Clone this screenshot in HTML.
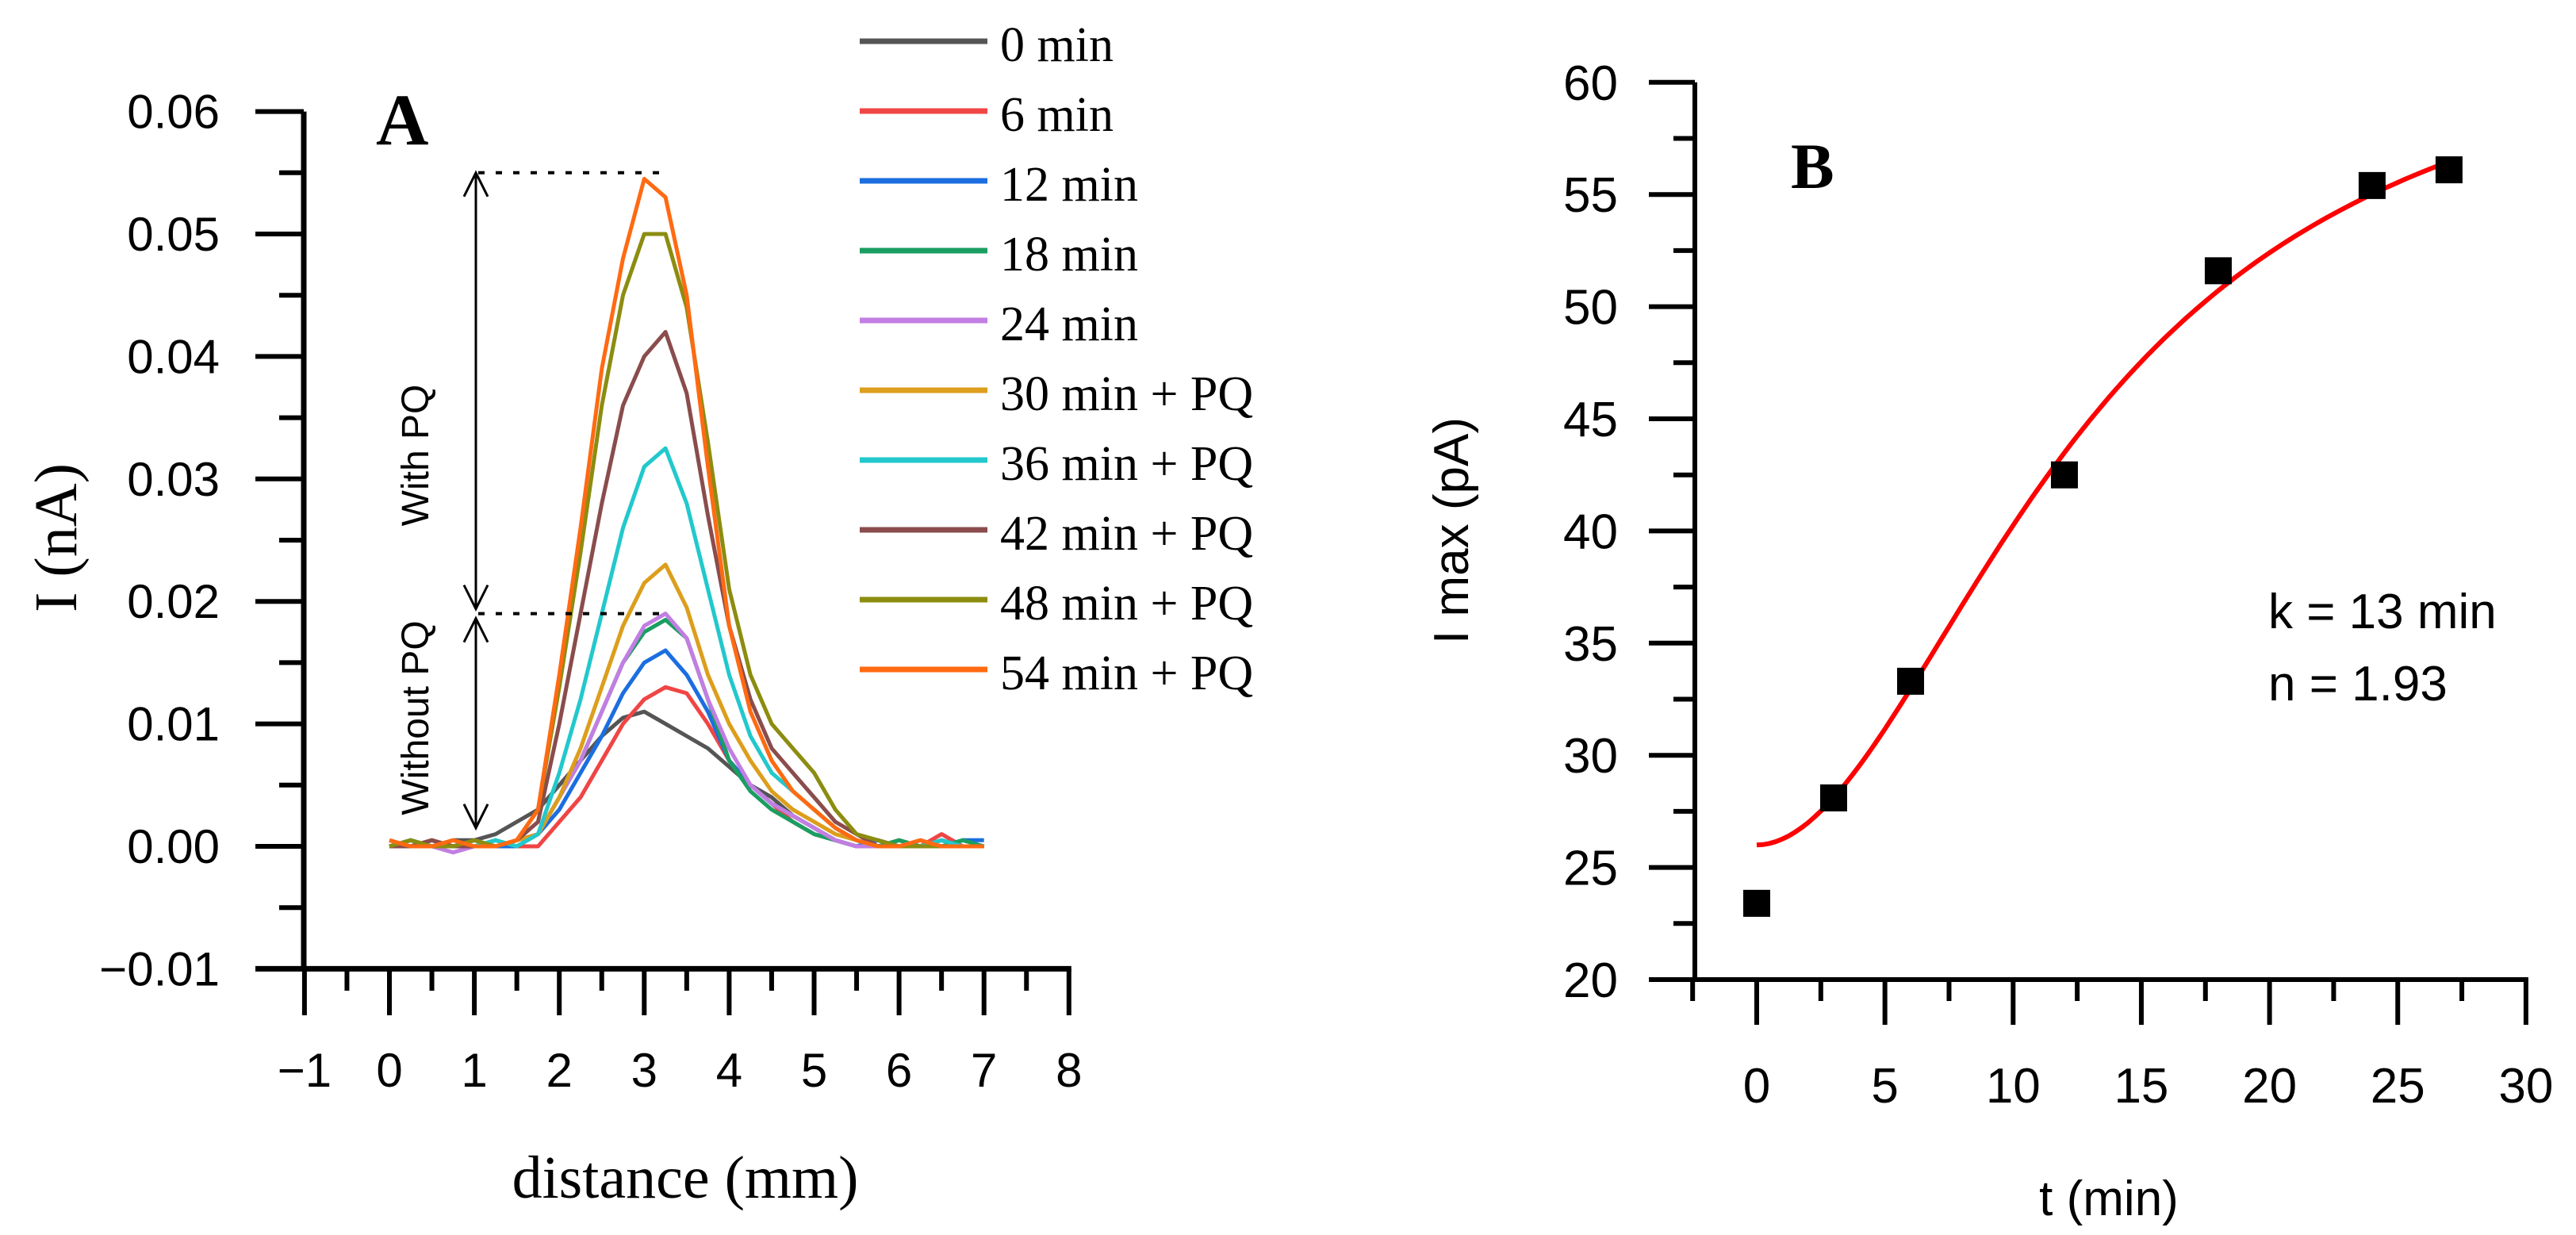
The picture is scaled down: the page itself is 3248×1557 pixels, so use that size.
<!DOCTYPE html>
<html><head><meta charset="utf-8"><style>
html,body{margin:0;padding:0;background:#fff;}
svg{display:block;}
.tk{font-family:"Liberation Sans",sans-serif;fill:#000;}
.sf{font-family:"Liberation Serif",serif;fill:#000;}
</style></head><body>
<svg id="fig" width="3248" height="1557" viewBox="0 0 3248 1557" xmlns="http://www.w3.org/2000/svg">
<g id="pa"></g>
<g id="pb"></g>
</svg>
<script>
// ---------- Panel A data ----------
const aX = [0,0.25,0.5,0.75,1,1.25,1.5,1.75,2,2.25,2.5,2.75,3,3.25,3.5,3.75,4,4.25,4.5,4.75,5,5.25,5.5,5.75,6,6.25,6.5,6.75,7];
const aLabels = ["0 min","6 min","12 min","18 min","24 min","30 min + PQ","36 min + PQ","42 min + PQ","48 min + PQ","54 min + PQ"];
const aColors = ["#555555","#f04545","#1c6ee0","#1a9e62","#c27ee2","#dc9e1c","#22c8cc","#8a4c4c","#8c8c10","#ff6a12"];
// values in units of 0.001 nA
const s0  = [0,0.5,0,0.5,0.5,1,2,3,5,7,9,10.5,11,10,9,8,6.5,5,4,2.5,1.5,0.5,0,0.5,0,0,0.5,0,0];
const s6  = [0,0,0.5,0,0,0,0,0,2,4,7,10,12,13,12.5,10,7,5,3.5,2,1,0.5,0,0,0.5,0,1,0,0];
const s12 = [0,0.5,0,0,0.5,0,0,1,3,6,9,12.5,15,16,14,11,7,5,3.5,2.5,1.5,0.5,0,0.5,0,0,0,0.5,0.5];
const s18 = [0,0,0.5,0,0,0.5,0,1,4,7,11,15,17.5,18.5,17,12,7,4.5,3,2,1,0.5,0,0,0.5,0,0,0.5,0];
const s24 = [0.5,0,0,-0.5,0,0,0.5,1,4,7,11,15,18,19,17,12,8,5,3.5,2.5,1.5,0.5,0,0,0,0.5,0,0,0];
const s30 = [0,0,0.5,0,0,0,0.5,1,4,8,13,18,21.5,23,19.5,14,10,7,4.5,3,2,1,0.5,0,0,0,0,0,0];
const s36 = [0,0.5,0,0,0,0.5,0,1,6,12,19,26,31,32.5,28,21,14,9,6,4.5,3,1.5,0.5,0,0,0,0.5,0,0];
const s42 = [0,0,0.5,0,0,0,0.5,2,10,19,28,36,40,42,37,27,18,12,8,6,4,2,1,0,0,0,0,0,0];
const s48 = [0,0.5,0,0,0.5,0,0.5,3,13,24,36,45,50,50,44,33,21,14,10,8,6,3,1,0.5,0,0,0,0,0];
const s54 = [0.5,0,0,0.5,0,0,0.5,3,14,26,39,48,54.5,53,45,31,18,11,7,4.5,3,1.5,0.5,0,0,0.5,0,0,0];
const aSeries = [s0,s6,s12,s18,s24,s30,s36,s42,s48,s54];
const aYTicks = ["\u22120.01","0.00","0.01","0.02","0.03","0.04","0.05","0.06"];
const aXTicks = ["\u22121","0","1","2","3","4","5","6","7","8"];
// ---------- Panel B data ----------
const bT = [0,3,6,12,18,24,27];
const bI = [23.4,28.1,33.3,42.5,51.6,55.4,56.1];
const bFitK = 13, bFitN = 1.93, bFitI0 = 26, bFitA = 37.9;
const bYTicks = ["20","25","30","35","40","45","50","55","60"];
const bXTicks = ["0","5","10","15","20","25","30"];

const NS="http://www.w3.org/2000/svg";
function mk(parent,tag,attrs,txt){const e=document.createElementNS(NS,tag);for(const k in attrs)e.setAttribute(k,attrs[k]);if(txt!==undefined)e.textContent=txt;parent.appendChild(e);return e;}

// Panel A axes
const ax=v=>491+(v)*107.1;
const ay=v=>1067-(v)*15440;
const pa=document.getElementById('pa');
let el;
el=mk(pa,'line',{x1:383,y1:ay(-0.01),x2:383,y2:ay(0.06),stroke:'#000','stroke-width':7});


el=mk(pa,'line',{x1:322,y1:ay(-0.01),x2:ax(8)+3,y2:ay(-0.01),stroke:'#000','stroke-width':7});


for(let i=0;i<=14;i++){const v=-0.01+i*0.005;const major=i%2===0;
  el=mk(pa,'line',{x1:major?322:352,y1:ay(v),x2:383,y2:ay(v),stroke:'#000','stroke-width':6});
  
  
}
aYTicks.forEach((t,i)=>{el=mk(pa,'text',{x:277,y:ay(-0.01+i*0.01)+21,'text-anchor':'end','font-size':60,class:'tk'},t);
  
  });
for(let i=0;i<=18;i++){const v=-1+i*0.5;const major=i%2===0;
  el=mk(pa,'line',{x1:ax(v),y1:ay(-0.01),x2:ax(v),y2:major?1280:1249,stroke:'#000','stroke-width':6});
  
  
}
aXTicks.forEach((t,i)=>{el=mk(pa,'text',{x:ax(-1+i),y:1370,'text-anchor':'middle','font-size':60,class:'tk'},t);
  
  });
el=mk(pa,'text',{x:864,y:1510,'text-anchor':'middle','font-size':76,class:'sf'},'distance (mm)');


el=mk(pa,'text',{x:0,y:0,'text-anchor':'middle','font-size':76,class:'sf',transform:'translate(96,678) rotate(-90)'},'I (nA)');


el=mk(pa,'text',{x:474,y:182,'font-size':92,'font-weight':'bold',class:'sf'},'A');


aSeries.forEach((s,si)=>{
  const d=s.map((v,i)=>(i?'L':'M')+ax(aX[i]).toFixed(1)+' '+ay(v/1000).toFixed(1)).join(' ');
  el=mk(pa,'path',{d:d,fill:'none',stroke:aColors[si],'stroke-width':5,'stroke-linejoin':'round'});
  
  
});
el=mk(pa,'line',{x1:603,y1:ay(0.055),x2:835,y2:ay(0.055),stroke:'#000','stroke-width':4,'stroke-dasharray':'8 14'});


el=mk(pa,'line',{x1:603,y1:ay(0.019),x2:835,y2:ay(0.019),stroke:'#000','stroke-width':4,'stroke-dasharray':'8 14'});


function arrow(y1,y2,name){
  const g=mk(pa,'g',{});
  
  
  mk(g,'line',{x1:600,y1:y1,x2:600,y2:y2,stroke:'#000','stroke-width':3});
  mk(g,'path',{d:`M585 ${y1+30} L600 ${y1} L615 ${y1+30} M585 ${y2-30} L600 ${y2} L615 ${y2-30}`,fill:'none',stroke:'#000','stroke-width':3});
}
arrow(ay(0.055),ay(0.019)-6,'with-pq-arrow');
arrow(ay(0.019)+6,ay(0.0015),'without-pq-arrow');
el=mk(pa,'text',{x:0,y:0,'text-anchor':'middle','font-size':48,class:'tk',transform:'translate(540,574) rotate(-90)'},'With PQ');


el=mk(pa,'text',{x:0,y:0,'text-anchor':'middle','font-size':48,class:'tk',transform:'translate(540,905) rotate(-90)'},'Without PQ');


const lg=mk(pa,'g',{});


aLabels.forEach((t,i)=>{const y=52+i*88;
  const g=mk(lg,'g',{});
  
  
  mk(g,'line',{x1:1084,y1:y,x2:1245,y2:y,stroke:aColors[i],'stroke-width':7});
  mk(g,'text',{x:1261,y:y+25,'font-size':62,class:'sf'},t);
});

// Panel B
const bx=v=>2215+v*32.33;
const by=v=>1235-(v-20)*28.28;
const pb=document.getElementById('pb');
el=mk(pb,'line',{x1:2137,y1:by(20),x2:2137,y2:by(60),stroke:'#000','stroke-width':6});


el=mk(pb,'line',{x1:2079,y1:by(20),x2:bx(30)+3,y2:by(20),stroke:'#000','stroke-width':6});


for(let i=0;i<=16;i++){const v=20+i*2.5;const major=i%2===0;
  el=mk(pb,'line',{x1:major?2079:2110,y1:by(v),x2:2137,y2:by(v),stroke:'#000','stroke-width':6});
  
  
}
bYTicks.forEach((t,i)=>{el=mk(pb,'text',{x:2040,y:by(20+i*5)+22,'text-anchor':'end','font-size':62,class:'tk'},t);
  
  });
for(let i=0;i<=13;i++){const v=-2.5+i*2.5;const major=i%2===1;
  el=mk(pb,'line',{x1:bx(v),y1:by(20),x2:bx(v),y2:major?1292:1262,stroke:'#000','stroke-width':6});
  
  
}
bXTicks.forEach((t,i)=>{el=mk(pb,'text',{x:bx(i*5),y:1390,'text-anchor':'middle','font-size':62,class:'tk'},t);
  
  });
el=mk(pb,'text',{x:2659,y:1532,'text-anchor':'middle','font-size':62,class:'tk'},'t (min)');


el=mk(pb,'text',{x:0,y:0,'text-anchor':'middle','font-size':62,class:'tk',transform:'translate(1851,669) rotate(-90)'},'I max (pA)');


el=mk(pb,'text',{x:2258,y:237,'font-size':82,'font-weight':'bold',class:'sf'},'B');


let fd='';
for(let i=0;i<=108;i++){const t=i*0.25;const v=bFitI0+bFitA*Math.pow(t,bFitN)/(Math.pow(bFitK,bFitN)+Math.pow(t,bFitN));
  fd+=(i?'L':'M')+bx(t).toFixed(1)+' '+by(v).toFixed(1)+' ';}
el=mk(pb,'path',{d:fd,fill:'none',stroke:'#ff0000','stroke-width':6});


bT.forEach((t,i)=>{el=mk(pb,'rect',{x:bx(t)-17,y:by(bI[i])-17,width:34,height:34,fill:'#000'});
  
  });
el=mk(pb,'text',{x:2860,y:792,'font-size':62,class:'tk'},'k = 13 min');


el=mk(pb,'text',{x:2860,y:883,'font-size':62,class:'tk'},'n = 1.93');


</script>
</body></html>
